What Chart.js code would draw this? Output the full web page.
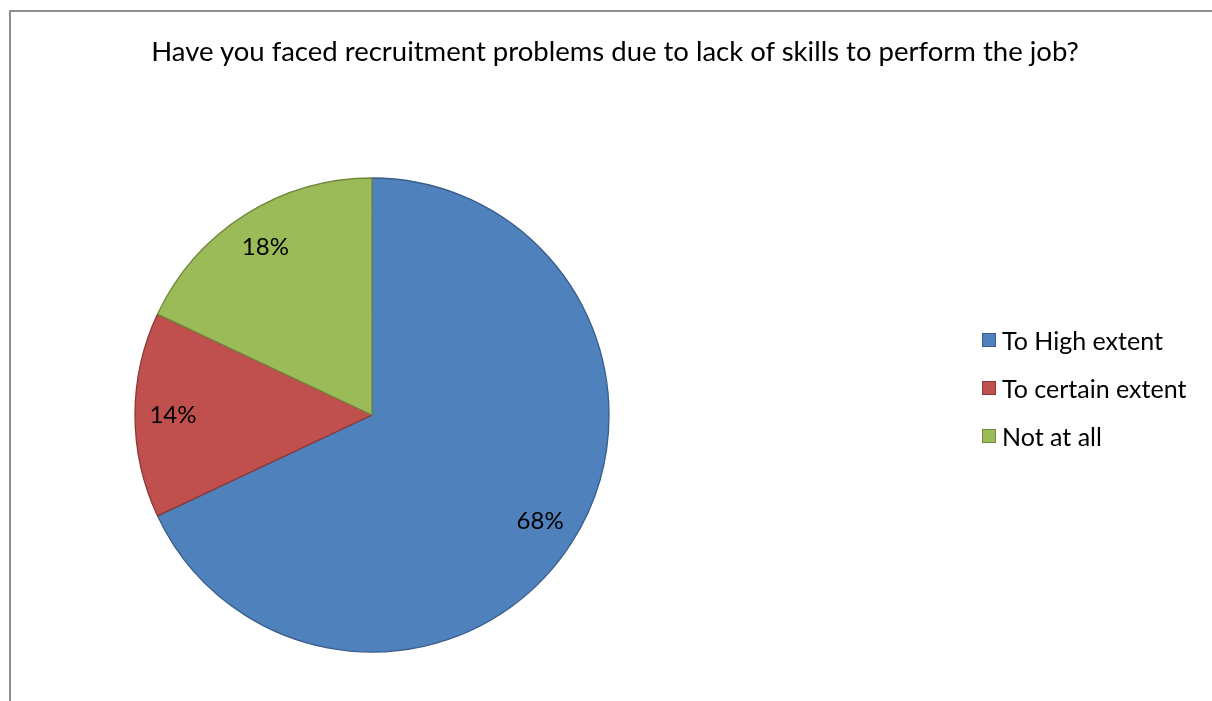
<!DOCTYPE html>
<html>
<head>
<meta charset="utf-8">
<title>Recruitment problems due to lack of skills</title>
<script src="https://cdn.jsdelivr.net/npm/chart.js@4.4.1/dist/chart.umd.min.js"></script>
<style>
  html, body { margin: 0; padding: 0; background: #fff; }
  body { width: 1212px; height: 701px; position: relative; overflow: hidden; font-family: Lato, "Noto Sans", sans-serif; }
  #frame { position: absolute; left: 9px; top: 10px; width: 1300px; height: 800px; border-left: 2px solid #8e8e8e; border-top: 2px solid #8e8e8e; box-sizing: border-box; }
  #chart { position: absolute; left: 0; top: 0; }
  #title { position: absolute; left: 0; width: 1230px; top: 34px; text-align: center; font-size: 27.5px; line-height: 33px; color: #000; white-space: nowrap; }
  #legend { position: absolute; left: 982px; top: 325px; }
  .item { display: flex; align-items: center; height: 30px; margin-bottom: 18px; font-size: 25px; color: #000; white-space: nowrap; }
  .swatch { width: 12px; height: 12px; border: 1px solid; margin-right: 6px; flex: none; }
</style>
</head>
<body>
<div id="frame"></div>
<canvas id="chart" width="1212" height="701"></canvas>
<div id="title"></div>
<div id="legend"></div>
<script>
const chartTitle = 'Have you faced recruitment problems due to lack of skills to perform the job?';
const categories = ['To High extent', 'To certain extent', 'Not at all'];
const shares = [68, 14, 18];
const fillColors = ['#4F81BD', '#C0504D', '#9BBB59'];
const edgeColors = ['#385D8A', '#8C3836', '#71893F'];

document.getElementById('title').textContent = chartTitle;

const legendBox = document.getElementById('legend');
categories.forEach((name, i) => {
  const row = document.createElement('div');
  row.className = 'item';
  const sw = document.createElement('span');
  sw.className = 'swatch';
  sw.style.background = fillColors[i];
  sw.style.borderColor = edgeColors[i];
  const txt = document.createElement('span');
  txt.textContent = name;
  row.appendChild(sw);
  row.appendChild(txt);
  legendBox.appendChild(row);
});

// percentage labels placed inside each slice, near the rim
const sliceLabels = {
  id: 'sliceLabels',
  afterDatasetsDraw(chart) {
    const { ctx } = chart;
    const meta = chart.getDatasetMeta(0);
    ctx.save();
    ctx.font = '24px Lato, "Noto Sans", sans-serif';
    ctx.fillStyle = '#000';
    ctx.textAlign = 'center';
    ctx.textBaseline = 'middle';
    meta.data.forEach((arc, i) => {
      const p = arc.getProps(['x', 'y', 'startAngle', 'endAngle', 'outerRadius'], true);
      const mid = (p.startAngle + p.endAngle) / 2;
      const r = p.outerRadius * 0.84;
      ctx.fillText(shares[i] + '%', p.x + Math.cos(mid) * r, p.y + Math.sin(mid) * r);
    });
    ctx.restore();
  }
};

new Chart(document.getElementById('chart'), {
  type: 'pie',
  data: {
    labels: categories,
    datasets: [{
      data: shares,
      backgroundColor: fillColors,
      borderColor: edgeColors,
      borderWidth: 1.3
    }]
  },
  options: {
    responsive: false,
    animation: false,
    radius: 237,
    layout: { padding: { left: 132, right: 600, top: 175, bottom: 46 } },
    plugins: {
      legend: { display: false },
      title: { display: false },
      tooltip: { enabled: false }
    }
  },
  plugins: [sliceLabels]
});
</script>
</body>
</html>
